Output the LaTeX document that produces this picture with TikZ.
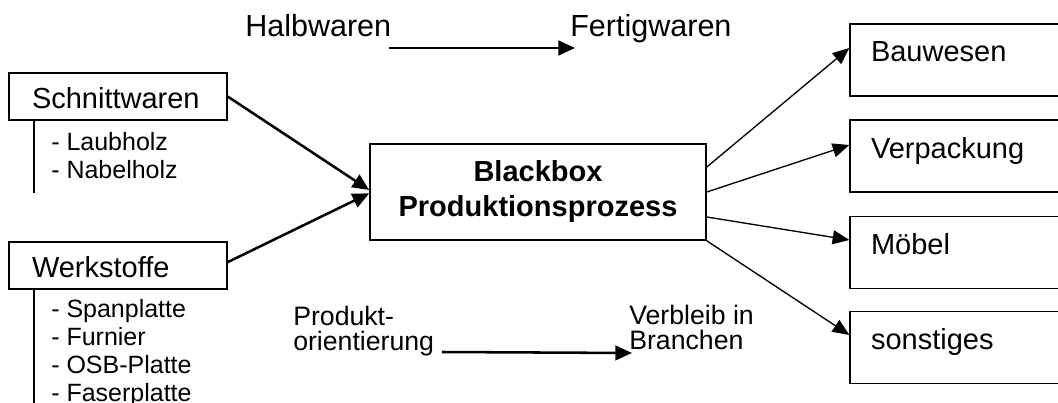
\documentclass[tikz,border=0pt]{standalone}
\usepackage{fontspec}
\setmainfont{Liberation Sans}
\usetikzlibrary{arrows.meta,calc}
\begin{document}
\begin{tikzpicture}[x=0.75pt,y=-0.75pt,
  bigtext/.style={font=\fontsize{21.75pt}{26pt}\selectfont},
  toptext/.style={font=\fontsize{22.9pt}{27pt}\selectfont, anchor=base west, inner sep=0pt},
  midtext/.style={font=\fontsize{20pt}{24pt}\selectfont, anchor=base west, inner sep=0pt},
  smalltext/.style={font=\fontsize{18.75pt}{22pt}\selectfont, anchor=base west, inner sep=0pt},
  lbox/.style={draw, line width=1pt, bigtext, minimum width=163.5pt, minimum height=35.25pt,
    text width=129pt, align=left, inner xsep=17.25pt, inner ysep=0pt,
    text height=18pt, text depth=0pt},
  rbox/.style={draw, line width=1pt, bigtext, minimum width=172.5pt, minimum height=54pt,
    text width=141pt, align=left, inner xsep=15.75pt, inner ysep=0pt,
    text height=15pt, text depth=12pt},
  cboxstyle/.style={draw, line width=1.2pt, font=\fontsize{21.75pt}{26.25pt}\selectfont\bfseries,
    minimum width=252pt, minimum height=72pt, align=center},
  thickarrow/.style={line width=1.9pt, -{Triangle[length=12.5pt,width=11pt]}},
  thinarrow/.style={line width=1pt, -{Triangle[length=12.5pt,width=10.5pt]}},
  stem/.style={line width=1pt}
]
\useasboundingbox (0,0) rectangle (1058,403);
\clip (0,0) rectangle (1058,403);

% top labels
\node[toptext] (halb) at (245,37) {Halbwaren};
\node[toptext] (fert) at (570,37) {Fertigwaren};
\coordinate (h1) at (389,48);
\coordinate (h2) at (575,48);
\draw[thickarrow] (h1) -- (h2);

% left boxes
\node[lbox] (schnitt) at (118,96.5) {Schnittwaren};
\node[lbox] (werk) at (118,265.5) {Werkstoffe};

\coordinate (send) at (34,193);
\coordinate (wend) at (34,405);
\draw[stem] (schnitt.south west -| send) -- (send);
\draw[stem] (werk.south west -| wend) -- (wend);

\node[smalltext] (laub) at (51,151) {- Laubholz};
\node[smalltext] (nabel) at (51,179) {- Nabelholz};
\node[smalltext] (span) at (51,317) {- Spanplatte};
\node[smalltext] (furn) at (51,345) {- Furnier};
\node[smalltext] (osb) at (51,373) {- OSB-Platte};
\node[smalltext] (faser) at (51,401) {- Faserplatte};

% center box
\node[cboxstyle] (cbox) at (538,192) {Blackbox\\Produktionsprozess};

\draw[thickarrow] (schnitt.east) -- ([yshift=1.5pt]cbox.west);
\draw[thickarrow] ([yshift=2.5pt]werk.east) -- ([yshift=-1pt]cbox.west);

% right boxes
\node[rbox] (bau) at (965,60) {Bauwesen};
\node[rbox] (verp) at (965,156) {Verpackung};
\node[rbox] (moebel) at (965,252.5) {Möbel};
\node[rbox] (sonst) at (965,347.5) {sonstiges};

\draw[thinarrow] ([yshift=18.75pt]cbox.east) -- ([yshift=9pt]bau.west);
\draw[thinarrow] (cbox.east) -- ([yshift=8.25pt]verp.west);
\draw[thinarrow] ([yshift=-18.75pt]cbox.east) -- ([yshift=9.4pt]moebel.west);
\draw[thinarrow] (cbox.south east) -- ([yshift=9.4pt]sonst.west);

% bottom labels
\node[midtext] (prod1) at (293,325) {Produkt-};
\node[midtext] (prod2) at (293,350) {orientierung};
\node[midtext] (verb1) at (629,324) {Verbleib in};
\node[midtext] (verb2) at (629,349) {Branchen};
\coordinate (p1) at (442,352);
\coordinate (p2) at (632,353);
\draw[thickarrow] (p1) -- (p2);
\end{tikzpicture}
\end{document}
